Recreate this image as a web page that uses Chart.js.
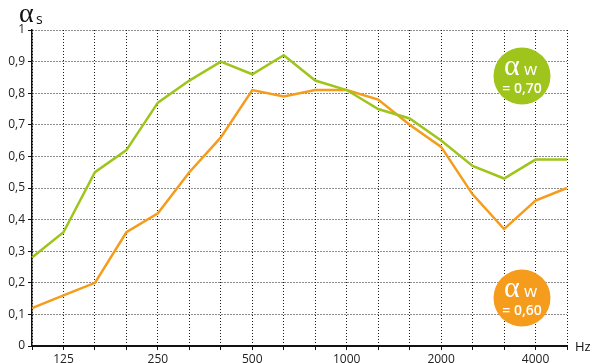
<!DOCTYPE html>
<html><head><meta charset="utf-8">
<script src="https://cdn.jsdelivr.net/npm/chart.js@4"></script>
<style>html,body{margin:0;padding:0;background:#fff}#c{display:block}</style>
</head><body>
<canvas id="c" width="597" height="363"></canvas>
<script>
const frequencies = ['100','125','160','200','250','315','400','500','630','800','1000','1250','1600','2000','2500','3150','4000','5000'];
const shownTickLabels = ['125','250','500','1000','2000','4000'];
const greenValues  = [0.28,0.36,0.55,0.62,0.77,0.84,0.90,0.86,0.92,0.84,0.81,0.75,0.72,0.65,0.57,0.53,0.59,0.59];
const orangeValues = [0.12,0.16,0.20,0.36,0.42,0.55,0.66,0.81,0.79,0.81,0.81,0.78,0.70,0.63,0.48,0.37,0.46,0.50];
const ratingTexts = ['= 0,70','= 0,60'];
const GREEN = '#9fc51c', ORANGE = '#f59c1c';
const FONT = '"Open Sans", sans-serif';

const overlay = {
  id: 'overlay',
  afterDraw(chart) {
    const ctx = chart.ctx, a = chart.chartArea;
    ctx.save();
    ctx.fillStyle = '#111';
    ctx.textBaseline = 'alphabetic';
    ctx.textAlign = 'left';
    ctx.font = '28px "Liberation Serif", serif';
    ctx.fillText('\u03B1', a.left - 13, a.top - 8);
    ctx.font = '14px ' + FONT;
    ctx.fillText('s', a.left + 4, a.top - 6);
    ctx.font = '13px ' + FONT;
    ctx.textBaseline = 'middle';
    ctx.fillText('Hz', a.right + 8, a.bottom + 1);
    const circ = [[GREEN, a.top + 46, ratingTexts[0]], [ORANGE, a.top + 268, ratingTexts[1]]];
    const cx = a.right - 45;
    circ.forEach(([col, cy, txt]) => {
      ctx.beginPath();
      ctx.fillStyle = col;
      ctx.arc(cx, cy, 28.5, 0, Math.PI * 2);
      ctx.fill();
      ctx.fillStyle = '#fff';
      ctx.textBaseline = 'alphabetic';
      ctx.textAlign = 'left';
      ctx.font = '30px "Liberation Serif", serif';
      ctx.fillText('\u03B1', cx - 18, cy - 1);
      ctx.font = '17px ' + FONT;
      ctx.fillText('w', cx + 2, cy - 1);
      ctx.textAlign = 'center';
      ctx.font = '600 14px ' + FONT;
      ctx.fillText(txt, cx, cy + 17);
    });
    ctx.restore();
  }
};

new Chart(document.getElementById('c'), {
  type: 'line',
  data: {
    labels: frequencies,
    datasets: [
      { data: greenValues, borderColor: GREEN, borderWidth: 2.5, pointRadius: 0, tension: 0, fill: false },
      { data: orangeValues, borderColor: ORANGE, borderWidth: 2.5, pointRadius: 0, tension: 0, fill: false }
    ]
  },
  options: {
    responsive: false,
    animation: false,
    devicePixelRatio: 1,
    layout: { padding: { top: 30, right: 30, left: 0, bottom: 0 } },
    plugins: { legend: { display: false }, tooltip: { enabled: false } },
    scales: {
      x: {
        offset: false,
        afterFit(s) { s.height = 17; },
        grid: { color: '#1a1a1a', lineWidth: 1, tickLength: 4, tickBorderDash: [], tickColor: '#111', tickWidth: 1 },
        border: { display: true, color: '#111', width: 2, dash: [1, 2] },
        ticks: {
          autoSkip: false, maxRotation: 0, padding: 2,
          color: '#222', font: { family: FONT, size: 12 },
          callback(v, i) { const l = frequencies[i]; return shownTickLabels.includes(l) ? l : ''; }
        }
      },
      y: {
        min: 0, max: 1,
        afterFit(s) { s.width = 32; },
        grid: { color: '#1a1a1a', lineWidth: 1, tickLength: 4, tickBorderDash: [], tickColor: '#111', tickWidth: 1 },
        border: { display: true, color: '#111', width: 1.5, dash: [1, 2] },
        ticks: {
          stepSize: 0.1, padding: 3,
          color: '#222', font: { family: FONT, size: 12 },
          callback(v) { const r = Math.round(v * 10) / 10; return (r === 0 || r === 1) ? String(r) : r.toFixed(1).replace('.', ','); }
        }
      }
    }
  },
  plugins: [overlay]
});
</script>
</body></html>
